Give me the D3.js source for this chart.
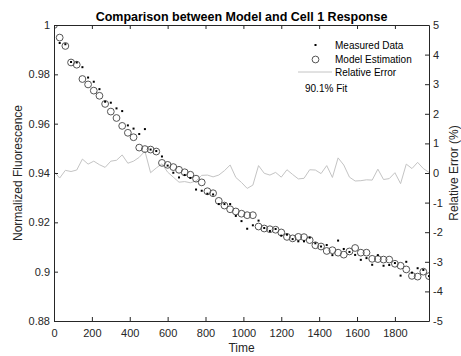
<!DOCTYPE html>
<html>
<head>
<meta charset="utf-8">
<script src="https://cdn.jsdelivr.net/npm/d3@7"></script>
<style>
  body { margin: 0; background: #fff; }
  text { font-family: "Liberation Sans", Arial, Helvetica, sans-serif; }
</style>
</head>
<body>
<div id="chart"></div>
<script>
// time samples (s)
var times = [0, 30, 60, 90, 120, 150, 180, 210, 240, 270, 300, 330, 360, 390, 420, 450, 480, 510, 540, 570,
  600, 630, 660, 690, 720, 750, 780, 810, 840, 870, 900, 930, 960, 990, 1020, 1050, 1080, 1110, 1140, 1170,
  1200, 1230, 1260, 1290, 1320, 1350, 1380, 1410, 1440, 1470, 1500, 1530, 1560, 1590, 1620, 1650, 1680, 1710,
  1740, 1770, 1800, 1830, 1860, 1890, 1920, 1950, 1980];

var measured = [1.0000, 0.9927, 0.9922, 0.9850, 0.9848, 0.9829, 0.9787, 0.9770, 0.9740, 0.9689, 0.9685, 0.9662,
  0.9651, 0.9593, 0.9580, 0.9558, 0.9578, 0.9495, 0.9489, 0.9467, 0.9430, 0.9401, 0.9382, 0.9392, 0.9380, 0.9333,
  0.9328, 0.9316, 0.9313, 0.9274, 0.9274, 0.9274, 0.9226, 0.9205, 0.9174, 0.9188, 0.9207, 0.9177, 0.9165, 0.9173,
  0.9146, 0.9150, 0.9132, 0.9123, 0.9123, 0.9138, 0.9115, 0.9102, 0.9108, 0.9067, 0.9126, 0.9092, 0.9080, 0.9068,
  0.9048, 0.9055, 0.9028, 0.9067, 0.9024, 0.9027, 0.9035, 0.8984, 0.9040, 0.8996, 0.9014, 0.9007, 0.8982];

var model = [1.0000, 0.9949, 0.9915, 0.9848, 0.9839, 0.9781, 0.9759, 0.9734, 0.9713, 0.9680, 0.9649, 0.9623,
  0.9591, 0.9563, 0.9545, 0.9503, 0.9497, 0.9495, 0.9487, 0.9441, 0.9433, 0.9424, 0.9413, 0.9403, 0.9393, 0.9377,
  0.9362, 0.9326, 0.9318, 0.9287, 0.9268, 0.9253, 0.9244, 0.9235, 0.9229, 0.9229, 0.9183, 0.9175, 0.9172, 0.9170,
  0.9159, 0.9141, 0.9135, 0.9141, 0.9140, 0.9128, 0.9107, 0.9102, 0.9084, 0.9087, 0.9077, 0.9069, 0.9082, 0.9096,
  0.9077, 0.9077, 0.9052, 0.9051, 0.9049, 0.9049, 0.9032, 0.9024, 0.9009, 0.8983, 0.8980, 0.9000, 0.8982];

// relative error (%)
var relError = [0.05, -0.17, 0.09, 0.05, 0.10, 0.47, 0.30, 0.40, 0.28, 0.19, 0.40, 0.43, 0.61, 0.33, 0.40, 0.53,
  0.74, 0.01, 0.17, 0.31, 0.03, -0.14, -0.31, -0.29, -0.33, -0.27, -0.08, -0.07, -0.13, -0.07, 0.08, 0.27, -0.15,
  -0.32, -0.52, -0.41, 0.25, -0.01, -0.07, 0.02, -0.14, 0.11, -0.05, -0.20, -0.18, 0.11, 0.10, -0.02, 0.25, -0.15,
  0.51, 0.27, -0.14, -0.27, -0.26, -0.23, -0.24, 0.13, -0.22, -0.19, 0.01, -0.36, 0.30, 0.15, 0.36, 0.15, 0.02];

var xTicks = [0, 200, 400, 600, 800, 1000, 1200, 1400, 1600, 1800];
var yTicks = [0.88, 0.9, 0.92, 0.94, 0.96, 0.98, 1];
var errTicks = [-5, -4, -3, -2, -1, 0, 1, 2, 3, 4, 5];
var legendLabels = ["Measured Data", "Model Estimation", "Relative Error"];
var fitLabel = "90.1% Fit";

function init() {
  createChart();
}

function createChart() {
  var width = 461, height = 356;
  var left = 54, right = 429, top = 25, bottom = 321;
  var axisColor = "#262626";

  var svg = d3.select("div#chart")
    .append("svg")
    .attr("width", width)
    .attr("height", height);

  var x = d3.scaleLinear().domain([0, 1980]).range([left, right]);
  var y = d3.scaleLinear().domain([0.88, 1]).range([bottom, top]);
  var yErr = d3.scaleLinear().domain([-5, 5]).range([bottom, top]);

  svg.append("defs").append("clipPath").attr("id", "clip")
    .append("rect")
    .attr("x", left).attr("y", top)
    .attr("width", right - left).attr("height", bottom - top);

  var plot = svg.append("g").attr("clip-path", "url(#clip)");

  // relative error line (right axis)
  var line = d3.line()
    .x(function(d, i) { return x(times[i]); })
    .y(function(d) { return yErr(d); });

  plot.append("path")
    .datum(relError)
    .attr("fill", "none")
    .attr("stroke", "#c4c4c4")
    .attr("stroke-width", 1)
    .attr("d", line);

  // model estimation circles
  plot.selectAll("circle.model")
    .data(model)
    .enter()
    .append("circle")
    .attr("class", "model")
    .attr("cx", function(d, i) { return x(times[i]); })
    .attr("cy", function(d) { return y(d); })
    .attr("r", 3.4)
    .attr("fill", "none")
    .attr("stroke", "#555")
    .attr("stroke-width", 1);

  // measured data dots
  plot.selectAll("rect.meas")
    .data(measured)
    .enter()
    .append("rect")
    .attr("class", "meas")
    .attr("x", function(d, i) { return x(times[i]) - 1; })
    .attr("y", function(d) { return y(d) - 1; })
    .attr("width", 2)
    .attr("height", 2)
    .attr("fill", "#000");

  // axes
  var plain = function(d) { return String(+d.toFixed(2)).replace("\u2212", "-"); };

  var bottomAxis = svg.append("g")
    .attr("transform", "translate(0," + bottom + ")")
    .call(d3.axisBottom(x).tickValues(xTicks).tickSizeInner(-4).tickSizeOuter(0).tickPadding(8).tickFormat(plain));

  var topAxis = svg.append("g")
    .attr("transform", "translate(0," + top + ")")
    .call(d3.axisTop(x).tickValues(xTicks).tickSizeInner(-4).tickSizeOuter(0).tickFormat(""));

  var leftAxis = svg.append("g")
    .attr("transform", "translate(" + left + ",0)")
    .call(d3.axisLeft(y).tickValues(yTicks).tickSizeInner(-4).tickSizeOuter(0).tickPadding(4).tickFormat(plain));

  var rightAxis = svg.append("g")
    .attr("transform", "translate(" + right + ",0)")
    .call(d3.axisRight(yErr).tickValues(errTicks).tickSizeInner(-4).tickSizeOuter(0).tickPadding(4).tickFormat(plain));

  [bottomAxis, topAxis, leftAxis, rightAxis].forEach(function(a) {
    a.select(".domain").attr("stroke", axisColor);
    a.selectAll(".tick line").attr("stroke", axisColor);
    a.selectAll(".tick text")
      .attr("fill", "#262626")
      .style("font-size", "11px")
      .style("font-family", "'Liberation Sans', Arial, sans-serif");
  });

  // title and axis labels
  svg.append("text")
    .attr("x", (left + right) / 2)
    .attr("y", 20.5)
    .attr("text-anchor", "middle")
    .style("font-size", "12.5px")
    .style("font-weight", "bold")
    .attr("fill", "#000")
    .text("Comparison between Model and Cell 1 Response");

  svg.append("text")
    .attr("x", (left + right) / 2)
    .attr("y", 352)
    .attr("text-anchor", "middle")
    .style("font-size", "12px")
    .attr("fill", "#262626")
    .text("Time");

  svg.append("text")
    .attr("transform", "translate(22," + (top + bottom) / 2 + ") rotate(-90)")
    .attr("text-anchor", "middle")
    .style("font-size", "12px")
    .attr("fill", "#262626")
    .text("Normalized Fluorescence");

  svg.append("text")
    .attr("transform", "translate(457.5," + (top + bottom) / 2 + ") rotate(-90)")
    .attr("text-anchor", "middle")
    .style("font-size", "12px")
    .attr("fill", "#262626")
    .text("Relative Error (%)");

  // legend
  var legend = svg.append("g");
  var ly = [45, 59.5, 72];
  legend.append("rect")
    .attr("x", 314.5).attr("y", ly[0] - 1)
    .attr("width", 2).attr("height", 2)
    .attr("fill", "#000");
  legend.append("circle")
    .attr("cx", 315.5).attr("cy", ly[1])
    .attr("r", 3.4)
    .attr("fill", "none")
    .attr("stroke", "#555");
  legend.append("line")
    .attr("x1", 298).attr("x2", 332)
    .attr("y1", ly[2]).attr("y2", ly[2])
    .attr("stroke", "#c4c4c4");

  legend.selectAll("text.leg")
    .data(legendLabels)
    .enter()
    .append("text")
    .attr("class", "leg")
    .attr("x", 335)
    .attr("y", function(d, i) { return ly[i] + 3.5; })
    .style("font-size", "10px")
    .attr("fill", "#000")
    .text(function(d) { return d; });

  svg.append("text")
    .attr("x", 305)
    .attr("y", 91.5)
    .style("font-size", "10px")
    .attr("fill", "#000")
    .text(fitLabel);
}

init();
</script>
</body>
</html>
